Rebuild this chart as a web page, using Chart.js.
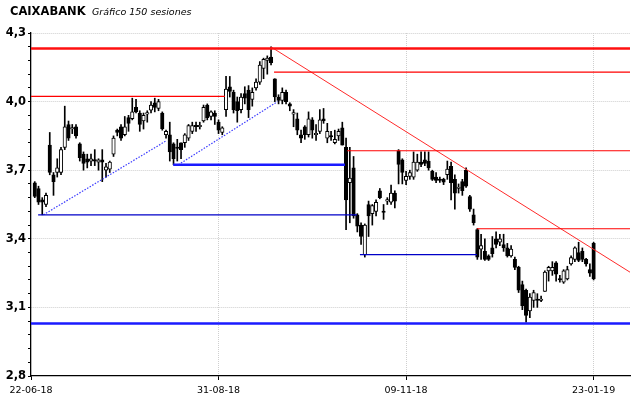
<!DOCTYPE html>
<html><head><meta charset="utf-8">
<script src="https://cdn.jsdelivr.net/npm/chart.js@4.4.0/dist/chart.umd.min.js"></script>
<style>
html,body{margin:0;padding:0;background:#fff;}
#wrap{position:relative;width:640px;height:398px;}
.t{position:absolute;font-family:'DejaVu Sans';white-space:nowrap;line-height:13px;color:#000;}
#t1{left:10px;top:4.5px;font-size:11.5px;font-weight:bold;}
#t2{left:92px;top:5.2px;font-size:9.5px;font-style:italic;}
</style></head>
<body><div id="wrap"><canvas id="c" width="640" height="398"></canvas>
<span class="t" id="t1">CAIXABANK</span><span class="t" id="t2">Gráfico 150 sesiones</span></div>
<script>
// session index of each date tick and its label
const sessionTicks = [-1, 49, 99, 149];
const tickLabels = ['22-06-18', '31-08-18', '09-11-18', '23-01-19'];
const priceTicks = [2.8, 3.1, 3.4, 3.7, 4.0, 4.3];

const open = [3.645,3.62,3.57,3.55,3.81,3.68,3.69,3.69,3.80,3.90,3.88,3.89,3.815,3.77,3.75,3.74,3.745,3.735,3.745,3.70,
3.705,3.77,3.875,3.89,3.855,3.93,3.925,3.975,3.95,3.915,3.945,3.963,3.995,3.97,3.95,3.855,3.855,3.815,3.80,3.82,
3.82,3.84,3.87,3.895,3.89,3.915,3.985,3.935,3.95,3.91,3.865,3.965,4.065,4.04,4.0,3.965,4.035,4.05,4.01,4.06,
4.085,4.145,4.18,4.195,4.10,4.02,4.005,4.04,3.99,3.945,3.925,3.855,3.89,3.855,3.92,3.855,3.87,3.925,3.84,3.85,
3.82,3.85,3.885,3.80,3.645,3.71,3.505,3.46,3.33,3.55,3.51,3.52,3.61,3.52,3.565,3.56,3.60,3.785,3.745,3.655,
3.673,3.67,3.70,3.735,3.745,3.74,3.695,3.67,3.66,3.66,3.68,3.717,3.66,3.62,3.65,3.70,3.585,3.505,3.44,3.355,
3.345,3.325,3.36,3.40,3.385,3.375,3.36,3.325,3.31,3.275,3.20,3.175,3.085,3.13,3.135,3.13,3.17,3.26,3.26,3.295,
3.225,3.21,3.225,3.29,3.31,3.34,3.345,3.31,3.265,3.38];
const high = [3.65,3.63,3.58,3.60,3.865,3.69,3.75,3.80,3.98,3.915,3.90,3.90,3.82,3.78,3.77,3.77,3.79,3.75,3.79,3.73,
3.74,3.85,3.88,3.90,3.935,3.94,4.015,4.01,3.96,3.95,3.96,4.0,4.015,4.01,3.955,3.875,3.91,3.82,3.835,3.82,
3.86,3.90,3.91,3.91,3.91,3.985,3.99,3.96,3.96,3.92,3.89,4.11,4.11,4.05,4.02,4.035,4.065,4.07,4.06,4.10,
4.175,4.19,4.20,4.24,4.10,4.03,4.06,4.05,3.995,3.965,3.95,3.875,3.895,3.955,3.93,3.90,3.965,3.97,3.905,3.87,
3.875,3.88,3.91,3.84,3.80,3.76,3.51,3.47,3.465,3.565,3.55,3.57,3.62,3.55,3.58,3.635,3.61,3.79,3.75,3.695,
3.70,3.78,3.77,3.78,3.78,3.78,3.70,3.69,3.67,3.665,3.74,3.735,3.68,3.64,3.66,3.71,3.59,3.53,3.445,3.42,
3.40,3.33,3.41,3.43,3.42,3.42,3.38,3.37,3.32,3.28,3.215,3.18,3.16,3.175,3.16,3.15,3.26,3.28,3.30,3.30,
3.24,3.265,3.28,3.325,3.365,3.385,3.36,3.315,3.29,3.385];
const low = [3.58,3.55,3.505,3.54,3.68,3.59,3.67,3.68,3.79,3.83,3.86,3.84,3.74,3.70,3.71,3.72,3.72,3.70,3.65,3.67,
3.69,3.76,3.85,3.83,3.85,3.87,3.92,3.95,3.87,3.88,3.91,3.95,3.955,3.96,3.875,3.84,3.74,3.724,3.74,3.75,
3.80,3.83,3.86,3.87,3.88,3.91,3.92,3.92,3.90,3.86,3.855,3.935,4.02,3.95,3.91,3.95,3.99,3.93,3.98,4.05,
4.075,4.10,4.12,4.16,4.0,3.99,3.99,3.99,3.96,3.89,3.855,3.82,3.835,3.845,3.84,3.83,3.86,3.905,3.82,3.83,
3.815,3.83,3.81,3.44,3.47,3.49,3.43,3.375,3.32,3.41,3.46,3.50,3.575,3.485,3.55,3.55,3.535,3.64,3.64,3.637,
3.66,3.66,3.695,3.715,3.72,3.70,3.655,3.645,3.647,3.637,3.66,3.57,3.53,3.60,3.59,3.625,3.52,3.46,3.31,3.31,
3.305,3.305,3.32,3.36,3.37,3.345,3.32,3.32,3.265,3.165,3.09,3.035,3.055,3.10,3.10,3.125,3.17,3.215,3.24,3.215,
3.21,3.205,3.22,3.285,3.30,3.30,3.30,3.28,3.235,3.22];
const close = [3.585,3.56,3.56,3.59,3.69,3.65,3.71,3.79,3.89,3.84,3.885,3.85,3.755,3.73,3.735,3.75,3.74,3.745,3.735,3.715,
3.735,3.84,3.865,3.84,3.89,3.905,3.955,3.955,3.90,3.94,3.95,3.985,3.975,4.0,3.88,3.87,3.78,3.75,3.795,3.79,
3.855,3.895,3.895,3.89,3.895,3.975,3.93,3.955,3.935,3.875,3.885,4.055,4.045,3.965,3.96,4.02,4.015,3.965,4.04,4.085,
4.16,4.185,4.19,4.17,4.02,4.005,4.04,4.0,3.98,3.95,3.875,3.84,3.855,3.925,3.875,3.86,3.92,3.915,3.87,3.845,
3.835,3.87,3.81,3.57,3.665,3.50,3.455,3.41,3.46,3.50,3.545,3.56,3.58,3.515,3.57,3.60,3.565,3.725,3.69,3.673,
3.69,3.735,3.735,3.725,3.73,3.71,3.66,3.655,3.655,3.648,3.705,3.645,3.60,3.62,3.61,3.63,3.53,3.47,3.32,3.37,
3.31,3.31,3.335,3.375,3.40,3.36,3.325,3.355,3.275,3.175,3.107,3.065,3.145,3.165,3.13,3.135,3.255,3.275,3.275,3.245,
3.22,3.26,3.265,3.318,3.36,3.305,3.31,3.29,3.25,3.225];

// horizontal support / resistance levels (price, first session, last session)
const levelValues = [4.232, 4.023, 4.129, 3.785, 3.444, 3.724, 3.03, 3.505, 3.331];
const levelFrom   = [-1, -1, 63.8, 83.3, 117.9, 36.9, -1, 0.9, 86.7];
const levelTo     = [158.7, 50.7, 158.7, 158.7, 158.7, 82.7, 158.7, 85.9, 117.9];
// trend lines (start session, start price, end session, end price)
const trendFrom    = [63, 2.3, 38.3];
const trendFromVal = [4.239, 3.505, 3.724];
const trendTo      = [158.7, 34.9, 64.7];
const trendToVal   = [3.254, 3.827, 4.0];

const levelStyle = [
  {c:'#ff1010', w:2.5}, {c:'#ff0000', w:1.2}, {c:'#ff0000', w:1.2}, {c:'#ff0000', w:1.2}, {c:'#ff0000', w:1.2},
  {c:'#1a1aff', w:2.5}, {c:'#1a1aff', w:2.5}, {c:'#0000c8', w:1.2}, {c:'#0000c8', w:1.2}
];
const trendStyle = [{c:'#ff2a2a', w:1, d:[]}, {c:'#3a3aff', w:1.2, d:[1.5,1.5]}, {c:'#3a3aff', w:1.2, d:[1.5,1.5]}];

const idx = open.map((_, i) => i);
const datasets = [];
levelValues.forEach((v, k) => {
  datasets.push({type:'line', data:[{x:levelFrom[k], y:v}, {x:levelTo[k], y:v}],
    borderColor:levelStyle[k].c, borderWidth:levelStyle[k].w, pointRadius:0, order:0});
});
trendFrom.forEach((f, k) => {
  datasets.push({type:'line', data:[{x:f, y:trendFromVal[k]}, {x:trendTo[k], y:trendToVal[k]}],
    borderColor:trendStyle[k].c, borderWidth:trendStyle[k].w, borderDash:trendStyle[k].d, pointRadius:0, order:0});
});
datasets.push({type:'bar', data: idx.map(i => ({x:i, y:[low[i], high[i]]})),
  backgroundColor:'#000', borderWidth:0, barThickness:1, grouped:false, order:2});
datasets.push({type:'bar', data: idx.map(i => ({x:i, y:[open[i], close[i]]})),
  backgroundColor: idx.map(i => close[i] >= open[i] ? '#ffffff' : '#000000'),
  borderColor:'#000', borderWidth:1, borderSkipped:false, barThickness:3.5, minBarLength:1.5, grouped:false, order:1});

const yMinor = [];
for (let k = 0; k <= 25; k++) yMinor.push(Math.round((2.8 + k * 0.06) * 1000) / 1000);
const isMajor = v => priceTicks.some(p => Math.abs(p - v) < 1e-6);

new Chart(document.getElementById('c'), {
  data: { datasets },
  options: {
    responsive:false, animation:false,
    layout:{padding:{left:0, right:10, top:33, bottom:0}},
    plugins:{legend:{display:false}, tooltip:{enabled:false}},
    scales:{
      x:{type:'linear', min:-1, max:158.7, offset:false,
        afterBuildTicks: s => { s.ticks = sessionTicks.map(v => ({value:v})); },
        afterFit: s => { s.height = 22; },
        ticks:{autoSkip:false, maxRotation:0, padding:5, color:'#000',
          font:{family:'DejaVu Sans', size:9.5},
          callback:(v, i) => tickLabels[i]},
        grid:{offset:false, color: c => (c.tick && c.tick.value === -1) ? 'rgba(0,0,0,0)' : '#cfcfcf',
          lineWidth:1, tickLength:4, tickColor:'#000'},
        border:{display:true, color:'#000', width:1.3, dash:[1,1]}
      },
      y:{type:'linear', min:2.8, max:4.3,
        afterBuildTicks: s => { s.ticks = yMinor.map(v => ({value:v})); },
        afterFit: s => { s.width = 31; },
        ticks:{autoSkip:false, padding:2, color:'#000',
          font:{family:'DejaVu Sans', size:11.5, weight:'bold'},
          callback: v => isMajor(v) ? v.toFixed(1).replace('.', ',') : ''},
        grid:{color: c => (c.tick && isMajor(c.tick.value) && Math.abs(c.tick.value - 2.8) > 1e-6) ? '#cfcfcf' : 'rgba(0,0,0,0)',
          lineWidth:1, tickLength:3, tickColor:'#000'},
        border:{display:true, color:'#000', width:1.3, dash:[1,1]}
      }
    }
  }
});
</script></body></html>
